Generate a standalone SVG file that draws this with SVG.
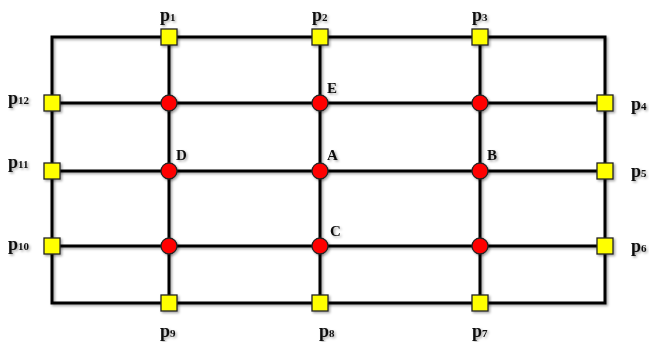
<svg xmlns="http://www.w3.org/2000/svg" width="649" height="342" viewBox="0 0 649 342">
<style>
.ln{stroke:#000;stroke-width:3;fill:none;stroke-linecap:square}
.sq{fill:#ffff00;stroke:#222;stroke-width:1.3}
.ci{fill:#ff0000;stroke:#222;stroke-width:1.3}
.lb{font-family:"Liberation Serif","DejaVu Serif",serif;font-weight:bold;font-size:18px;fill:#111}
.sb{font-size:11px}
.lt{font-family:"Liberation Serif","DejaVu Serif",serif;font-weight:bold;font-size:15px;fill:#111}
</style>
<defs>
<filter id="sh" x="-10%" y="-10%" width="120%" height="120%">
<feDropShadow dx="1.5" dy="1.5" stdDeviation="1" flood-color="#000" flood-opacity="0.35"/>
</filter>
</defs>
<rect width="649" height="342" fill="#fff"/>
<g id="connectors" filter="url(#sh)">
<rect class="ln" x="52" y="37" width="553" height="266"/>
<line class="ln" x1="169" y1="37" x2="169" y2="303"/>
<line class="ln" x1="320" y1="37" x2="320" y2="303"/>
<line class="ln" x1="480" y1="37" x2="480" y2="303"/>
<line class="ln" x1="52" y1="103" x2="605" y2="103"/>
<line class="ln" x1="52" y1="171" x2="605" y2="171"/>
<line class="ln" x1="52" y1="246" x2="605" y2="246"/>
</g>
<g filter="url(#sh)">
<g id="p1"><rect class="sq" x="161" y="29" width="16" height="16"/><text class="lb" x="160" y="21">p<tspan class="sb">1</tspan></text></g>
<g id="p2"><rect class="sq" x="312" y="29" width="16" height="16"/><text class="lb" x="312" y="21">p<tspan class="sb">2</tspan></text></g>
<g id="p3"><rect class="sq" x="472" y="29" width="16" height="16"/><text class="lb" x="472" y="21">p<tspan class="sb">3</tspan></text></g>
<g id="p4"><rect class="sq" x="597" y="95" width="16" height="16"/><text class="lb" x="631" y="110">p<tspan class="sb">4</tspan></text></g>
<g id="p5"><rect class="sq" x="597" y="163" width="16" height="16"/><text class="lb" x="631" y="177">p<tspan class="sb">5</tspan></text></g>
<g id="p6"><rect class="sq" x="597" y="238" width="16" height="16"/><text class="lb" x="631" y="252">p<tspan class="sb">6</tspan></text></g>
<g id="p7"><rect class="sq" x="472" y="295" width="16" height="16"/><text class="lb" x="472" y="337">p<tspan class="sb">7</tspan></text></g>
<g id="p8"><rect class="sq" x="312" y="295" width="16" height="16"/><text class="lb" x="319" y="337">p<tspan class="sb">8</tspan></text></g>
<g id="p9"><rect class="sq" x="161" y="295" width="16" height="16"/><text class="lb" x="160" y="337">p<tspan class="sb">9</tspan></text></g>
<g id="p10"><rect class="sq" x="44" y="238" width="16" height="16"/><text class="lb" x="8" y="250">p<tspan class="sb">10</tspan></text></g>
<g id="p11"><rect class="sq" x="44" y="163" width="16" height="16"/><text class="lb" x="8" y="168">p<tspan class="sb">11</tspan></text></g>
<g id="p12"><rect class="sq" x="44" y="95" width="16" height="16"/><text class="lb" x="8" y="104">p<tspan class="sb">12</tspan></text></g>
<g id="n1"><circle class="ci" cx="169" cy="103" r="8"/></g>
<g id="E"><circle class="ci" cx="320" cy="103" r="8"/><text class="lt" x="327" y="93">E</text></g>
<g id="n3"><circle class="ci" cx="480" cy="103" r="8"/></g>
<g id="D"><circle class="ci" cx="169" cy="171" r="8"/><text class="lt" x="176" y="160">D</text></g>
<g id="A"><circle class="ci" cx="320" cy="171" r="8"/><text class="lt" x="327" y="160">A</text></g>
<g id="B"><circle class="ci" cx="480" cy="171" r="8"/><text class="lt" x="487" y="160">B</text></g>
<g id="n7"><circle class="ci" cx="169" cy="246" r="8"/></g>
<g id="C"><circle class="ci" cx="320" cy="246" r="8"/><text class="lt" x="330" y="236">C</text></g>
<g id="n9"><circle class="ci" cx="480" cy="246" r="8"/></g>
</g>
</svg>
